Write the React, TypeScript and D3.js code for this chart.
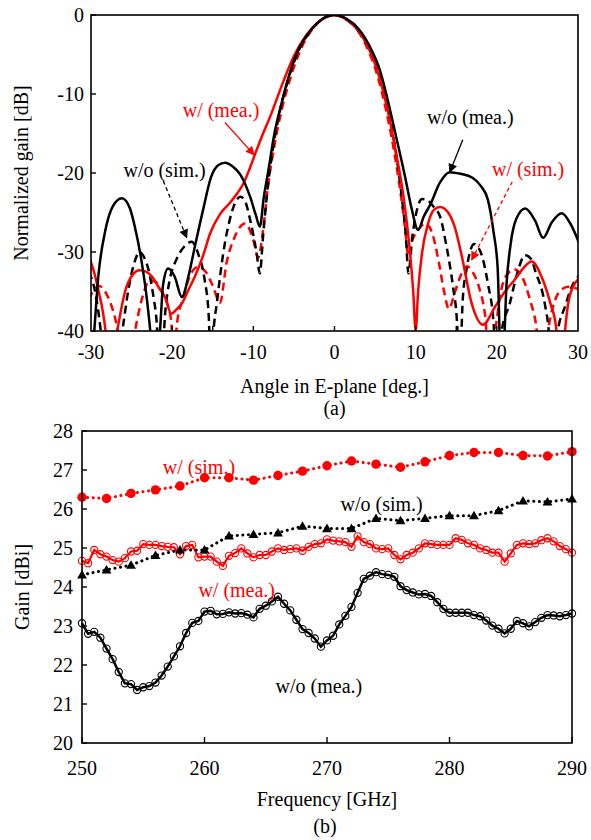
import React from "react";
import * as d3 from "d3";

const FONT = '"Liberation Serif", "Times New Roman", serif';
const RED = "#ff0000";

// ---------- (a) radiation pattern data (angle [deg], normalized gain [dB]) ----------
const woMeaAngle = [-30.3,-29.6,-29.1,-28.3,-27.3,-26.2,-25.2,-24.6,-23.8,-23.1,-22.7,-22.1,-21.5,-21.1,-20.5,-19.7,-18.8,-18.0,-17.2,-16.2,-15.2,-14.3,-13.5,-12.5,-11.6,-10.4,-9.7,-9.2,-8.7,-8.2,-7.4,-6.6,-5.7,-4.5,-3,-1.5,0,1.5,3,4.5,5.6,6.5,7.5,8.7,9.5,10.3,11.0,11.8,13.0,14.2,15.5,17.0,18.0,18.9,19.6,20.1,20.6,21.2,21.7,22.4,23.5,24.7,25.7,26.8,28,29,30.3];
const woMeaDb = [-48,-40,-33.1,-27.6,-24.2,-23.2,-24.5,-26.8,-31,-36.1,-40,-48,-40,-34,-32.1,-33.1,-35.7,-33.1,-29.3,-24.7,-20.5,-19,-18.7,-19.2,-20.2,-23.0,-25.3,-26.8,-23,-20,-15,-11.5,-8,-4.5,-2,-0.5,0,-0.5,-1.8,-4.3,-7,-10.5,-15,-20.5,-24.5,-27.2,-25.5,-24.0,-21.2,-19.9,-20.1,-20.6,-21.6,-23.4,-27.5,-32,-48,-34,-29,-25.8,-24.5,-26,-28.2,-26.2,-25.1,-26.3,-29.3];

const woSimAngle = [-30.3,-29.5,-28.8,-28.2,-27,-26,-25.4,-24.7,-24,-23.4,-22.9,-22.3,-21.9,-21.5,-20.8,-20.3,-19.5,-18.5,-17.6,-16.8,-16.0,-15.5,-15.2,-14.9,-14.5,-13.7,-12.9,-12.2,-11.6,-11.0,-10.4,-9.6,-9.2,-8.8,-8.3,-7.6,-6.8,-5.8,-4.5,-3,-1.5,0,1.5,3,4.5,5.5,6.5,7.5,8.4,8.8,9.1,9.6,10.2,10.8,11.5,12.3,13.0,13.8,14.6,15.1,15.4,15.8,16.3,17.2,18,18.9,19.6,20.0,20.6,21.6,22.4,23.5,24.3,24.7,25.9,26.4,26.8,27.5,28.4,29.2,30.3];
const woSimDb = [-32.5,-35,-40,-47,-46,-39,-34.8,-31.5,-30.0,-30.8,-32.3,-35.7,-39,-47,-37,-33.5,-31,-29.3,-28.7,-30.2,-33.5,-38,-46,-40,-36.5,-30.1,-25.9,-23.7,-23.0,-23.6,-25.9,-30.1,-32.7,-28,-22.5,-17,-12.5,-8.5,-4.7,-2.1,-0.5,0,-0.6,-2.1,-4.8,-7.5,-11.5,-17,-24,-28,-32.7,-28,-24.5,-23.3,-23.5,-24.4,-25.5,-29.3,-34.4,-39,-46,-36,-32,-29,-30,-34,-39,-46,-40,-36.5,-33.1,-30.4,-31,-32.3,-36.5,-40,-46,-40,-36.9,-34.5,-32.8];

const wMeaAngle = [-30.3,-29.5,-29.1,-28.5,-28.0,-27.6,-27.1,-26.6,-25.8,-24.8,-24,-23.2,-22.5,-21.7,-20.9,-20.1,-19.4,-18.8,-18,-17.2,-16.2,-15.3,-14.1,-12.9,-12,-11.2,-10.4,-9.6,-8.8,-7.9,-6.3,-5,-3.5,-2,0,1.5,3,4.5,5.5,6.5,7.5,8.5,9.2,9.7,10.0,10.3,10.8,11.5,12.3,13.0,14,14.8,15.7,16.9,18.3,19.8,21,22.2,23.3,24.3,25.5,26.6,27.3,27.9,28.4,29,30.3];
const wMeaDb = [-30.5,-33,-34.8,-37.8,-42,-48,-42,-39,-35,-32.8,-32.3,-32.5,-33.1,-34.4,-35.7,-37.8,-37.2,-36.5,-34.8,-33.1,-30.5,-27.6,-25.2,-23.8,-22.6,-21.3,-19.3,-17.1,-15.0,-12.8,-8.4,-5.2,-2.6,-0.9,0,-0.6,-2.0,-4.8,-7.8,-11.8,-17,-23,-29,-35,-40,-35,-30,-26.5,-24.6,-24.3,-25,-26.8,-30.6,-36.5,-39.2,-36.9,-35,-33.5,-32,-31.2,-33.1,-36.5,-39.5,-47,-40,-35.5,-33.2];

const wSimAngle = [-30.3,-29,-28,-27,-26.3,-25.6,-24.9,-24.3,-23.6,-22.8,-22.0,-21.3,-20.6,-20.1,-19.8,-19.4,-18.7,-17.8,-16.8,-15.8,-15.0,-14.1,-13.3,-12.3,-11.0,-10.0,-9.4,-8.8,-8.2,-7.4,-6.5,-5.5,-4,-2.5,0,2.5,4,5.3,6.3,7.3,8.2,8.7,9.1,9.6,10.3,11.2,12,12.8,13.5,14.1,14.8,15.5,16.3,17.0,17.9,18.6,19.1,19.8,20.5,21.3,22.2,23.1,24.1,24.8,25.6,26.3,26.9,27.6,28.8,30.3];
const wSimDb = [-36,-34.3,-35.5,-38.5,-42,-47,-42,-38.5,-35.5,-33.6,-33.8,-35.0,-36.5,-39,-44,-39,-36,-33,-31.9,-32.6,-34.3,-36.4,-31.4,-28.1,-26.4,-28.5,-30.7,-27.2,-21.7,-16.5,-12,-8.2,-4,-1.5,0,-1.5,-4.1,-7.7,-11.8,-17,-23,-27,-30.5,-28.5,-27.2,-26.4,-27.5,-31,-35,-37.2,-35.2,-33.1,-31.8,-32.5,-34.8,-38.5,-45,-40,-35,-32.8,-32.2,-33.1,-36.1,-39,-46,-40,-37,-35.2,-34.4,-34.8];

const angleTicks = [-30, -20, -10, 0, 10, 20, 30];
const angleMinorTicks = [-20, -15, -10, 0, 10, 15, 20];
const dbTicks = [0, -10, -20, -30, -40];

// ---------- (b) gain vs frequency data ----------
const freqSim = [250,252,254,256,258,260,262,264,266,268,270,272,274,276,278,280,282,284,286,288,290];
const wSimGain = [26.30,26.27,26.40,26.49,26.59,26.80,26.80,26.74,26.86,26.97,27.11,27.23,27.15,27.07,27.21,27.37,27.45,27.45,27.37,27.36,27.47];
const woSimGain = [24.31,24.44,24.56,24.81,24.95,24.95,25.31,25.35,25.39,25.56,25.50,25.50,25.76,25.70,25.76,25.83,25.83,25.96,26.21,26.18,26.26];

const freqMea = [250,250.5,251,251.5,252,252.5,253,253.5,254,254.5,255,255.5,256,256.5,257,257.5,258,258.5,259,259.5,260,260.5,261,261.5,262,262.5,263,263.5,264,264.5,265,265.5,266,266.5,267,267.5,268,268.5,269,269.5,270,270.5,271,271.5,272,272.5,273,273.5,274,274.5,275,275.5,276,276.5,277,277.5,278,278.5,279,279.5,280,280.5,281,281.5,282,282.5,283,283.5,284,284.5,285,285.5,286,286.5,287,287.5,288,288.5,289,289.5,290];
const wMeaGain = [
  24.67,24.61,24.95,24.84,24.78,24.69,24.65,24.74,24.91,24.93,
  25.10,25.08,25.08,25.05,25.03,25.02,24.84,25.05,25.08,24.76,
  24.78,24.78,24.65,24.54,24.80,24.87,24.99,24.86,24.76,24.82,
  24.82,24.91,24.99,24.95,24.97,24.99,24.93,25.03,25.10,25.12,
  25.22,25.19,25.17,25.15,25.03,25.30,25.15,25.10,24.99,24.97,
  24.99,24.82,24.71,24.82,24.88,24.99,25.12,25.10,25.08,25.08,
  25.08,25.25,25.21,25.12,25.08,24.99,24.95,24.88,24.88,24.65,
  24.86,25.08,25.12,25.10,25.12,25.20,25.25,25.17,25.05,24.97,
  24.88];
const woMeaGain = [
  23.07,22.80,22.85,22.70,22.42,22.15,21.82,21.53,21.51,21.36,
  21.43,21.46,21.55,21.73,21.96,22.22,22.48,22.82,23.08,23.13,
  23.37,23.39,23.30,23.31,23.35,23.32,23.33,23.29,23.22,23.44,
  23.52,23.63,23.75,23.57,23.40,23.16,22.92,22.82,22.68,22.47,
  22.63,22.75,23.04,23.26,23.49,23.85,24.21,24.29,24.38,24.33,
  24.31,24.26,24.02,23.92,23.86,23.81,23.82,23.77,23.61,23.44,
  23.34,23.34,23.34,23.34,23.28,23.25,23.14,23.01,22.93,22.81,
  22.93,23.13,23.07,22.99,23.10,23.21,23.28,23.27,23.25,23.28,
  23.32];

const freqTicks = [250, 260, 270, 280, 290];
const gainTicks = [20, 21, 22, 23, 24, 25, 26, 27, 28];

// annotations: [x, y] in data units
const topLabels = [
  { text: "w/ (mea.)", x: -18.7, y: -12.9, color: RED },
  { text: "w/o (sim.)", x: -26.0, y: -20.5, color: "#000" },
  { text: "w/o (mea.)", x: 11.4, y: -13.8, color: "#000" },
  { text: "w/ (sim.)", x: 19.4, y: -20.4, color: RED },
];
const topArrows = [
  { from: [-13.5, -13.6], to: [-9.9, -17.7], color: RED, dashed: false },
  { from: [-21.1, -21.0], to: [-18.2, -28.2], color: "#000", dashed: true },
  { from: [15.8, -15.8], to: [14.2, -19.9], color: "#000", dashed: false },
  { from: [21.9, -21.1], to: [16.9, -31.0], color: RED, dashed: true },
];
const botLabels = [
  { text: "w/ (sim.)", x: 256.6, y: 26.9, color: RED },
  { text: "w/o (sim.)", x: 271.1, y: 25.95, color: "#000" },
  { text: "w/ (mea.)", x: 259.5, y: 23.74, color: RED },
  { text: "w/o (mea.)", x: 265.8, y: 21.28, color: "#000" },
];

function pathOf(xs: number[], ys: number[], sx: any, sy: any, curve?: any): string {
  const pts = xs.map((x, i) => [x, ys[i]] as [number, number]);
  const g = d3.line<[number, number]>().x((d) => sx(d[0])).y((d) => sy(d[1]));
  if (curve) g.curve(curve);
  return g(pts) || "";
}

export default function App() {
  // top chart
  const xA = d3.scaleLinear().domain([-30, 30]).range([91, 578]);
  const yA = d3.scaleLinear().domain([-40, 0]).range([331, 15]);
  // bottom chart
  const xF = d3.scaleLinear().domain([250, 290]).range([82, 572]);
  const yG = d3.scaleLinear().domain([20, 28]).range([743, 431]);

  const curve = d3.curveMonotoneX;
  const tri = d3.symbol(d3.symbolTriangle, 42)() || "";

  return (
    <svg
      width={591}
      height={840}
      style={{ position: "absolute", left: 0, top: 0, background: "#fff" }}
      fontFamily={FONT}
    >
      <defs>
        <clipPath id="clipA">
          <rect x={xA(-30)} y={yA(0)} width={xA(30) - xA(-30)} height={yA(-40) - yA(0)} />
        </clipPath>
        <clipPath id="clipB">
          <rect x={xF(250) - 6} y={yG(28)} width={xF(290) - xF(250) + 12} height={yG(20) - yG(28)} />
        </clipPath>
        <marker id="ahRed" viewBox="0 0 10 10" refX="9" refY="5" markerWidth="11" markerHeight="9" markerUnits="userSpaceOnUse" orient="auto">
          <path d="M0,0 L10,5 L0,10 z" fill={RED} />
        </marker>
        <marker id="ahBlack" viewBox="0 0 10 10" refX="9" refY="5" markerWidth="11" markerHeight="9" markerUnits="userSpaceOnUse" orient="auto">
          <path d="M0,0 L10,5 L0,10 z" fill="#000" />
        </marker>
      </defs>

      {/* ================= (a) ================= */}
      <g clipPath="url(#clipA)" fill="none" strokeWidth={2.5}>
        <path d={pathOf(wSimAngle, wSimDb, xA, yA, curve)} stroke={RED} strokeDasharray="8,5" />
        <path d={pathOf(woSimAngle, woSimDb, xA, yA, curve)} stroke="#000" strokeDasharray="8,5" />
        <path d={pathOf(wMeaAngle, wMeaDb, xA, yA, curve)} stroke={RED} />
        <path d={pathOf(woMeaAngle, woMeaDb, xA, yA, curve)} stroke="#000" />
      </g>
      <rect x={xA(-30)} y={yA(0)} width={xA(30) - xA(-30)} height={yA(-40) - yA(0)} fill="none" stroke="#000" strokeWidth={1.6} />
      {dbTicks.map((t) => (
        <g key={"ya" + t}>
          <line x1={xA(-30)} x2={xA(-30) + 5} y1={yA(t)} y2={yA(t)} stroke="#000" strokeWidth={1.4} />
          <text x={xA(-30) - 7} y={yA(t)} dy="0.35em" textAnchor="end" fontSize={20}>{t}</text>
        </g>
      ))}
      {angleMinorTicks.map((t) => (
        <line key={"xt" + t} x1={xA(t)} x2={xA(t)} y1={yA(-40)} y2={yA(-40) - 5} stroke="#000" strokeWidth={1.4} />
      ))}
      {angleTicks.map((t) => (
        <text key={"xa" + t} x={xA(t)} y={359} textAnchor="middle" fontSize={20}>{t}</text>
      ))}
      <text x={xA(0)} y={393} textAnchor="middle" fontSize={20}>Angle in E-plane [deg.]</text>
      <text x={xA(0)} y={415} textAnchor="middle" fontSize={20}>(a)</text>
      <text transform={`translate(28,${(yA(0) + yA(-40)) / 2}) rotate(-90)`} textAnchor="middle" fontSize={20}>Normalized gain [dB]</text>

      {topArrows.map((a, i) => (
        <line
          key={"arr" + i}
          x1={xA(a.from[0])}
          y1={yA(a.from[1])}
          x2={xA(a.to[0])}
          y2={yA(a.to[1])}
          stroke={a.color}
          strokeWidth={1.3}
          strokeDasharray={a.dashed ? "4,3" : undefined}
          markerEnd={a.color === RED ? "url(#ahRed)" : "url(#ahBlack)"}
        />
      ))}
      {topLabels.map((l, i) => (
        <text key={"tl" + i} x={xA(l.x)} y={yA(l.y)} fill={l.color} fontSize={20}>{l.text}</text>
      ))}

      {/* ================= (b) ================= */}
      <g clipPath="url(#clipB)">
        {/* w/o (mea.) */}
        <path d={pathOf(freqMea, woMeaGain, xF, yG)} fill="none" stroke="#000" strokeWidth={2.5} />
        {freqMea.map((f, i) => (
          <circle key={"bo" + i} cx={xF(f)} cy={yG(woMeaGain[i])} r={3.6} fill="none" stroke="#000" strokeWidth={1.1} />
        ))}
        {/* w/ (mea.) */}
        <path d={pathOf(freqMea, wMeaGain, xF, yG)} fill="none" stroke={RED} strokeWidth={2.2} />
        {freqMea.map((f, i) => (
          <circle key={"ro" + i} cx={xF(f)} cy={yG(wMeaGain[i])} r={3.6} fill="none" stroke={RED} strokeWidth={1.1} />
        ))}
        {/* w/o (sim.) */}
        <path d={pathOf(freqSim, woSimGain, xF, yG)} fill="none" stroke="#000" strokeWidth={3} strokeDasharray="0.1,5.5" strokeLinecap="round" />
        {freqSim.map((f, i) => (
          <path key={"tr" + i} d={tri} transform={`translate(${xF(f)},${yG(woSimGain[i]) + 0.8})`} fill="#000" />
        ))}
        {/* w/ (sim.) */}
        <path d={pathOf(freqSim, wSimGain, xF, yG)} fill="none" stroke={RED} strokeWidth={3} strokeDasharray="0.1,5.5" strokeLinecap="round" />
        {freqSim.map((f, i) => (
          <circle key={"rf" + i} cx={xF(f)} cy={yG(wSimGain[i])} r={4.7} fill={RED} />
        ))}
      </g>
      <rect x={xF(250)} y={yG(28)} width={xF(290) - xF(250)} height={yG(20) - yG(28)} fill="none" stroke="#000" strokeWidth={1.6} />
      {gainTicks.map((t) => (
        <g key={"yg" + t}>
          <line x1={xF(250)} x2={xF(250) + 5} y1={yG(t)} y2={yG(t)} stroke="#000" strokeWidth={1.4} />
          <text x={xF(250) - 9} y={yG(t)} dy="0.35em" textAnchor="end" fontSize={20}>{t}</text>
        </g>
      ))}
      {freqTicks.map((t) => (
        <g key={"xf" + t}>
          <line x1={xF(t)} x2={xF(t)} y1={yG(20)} y2={yG(20) - 6} stroke="#000" strokeWidth={1.4} />
          <text x={xF(t)} y={775} textAnchor="middle" fontSize={20}>{t}</text>
        </g>
      ))}
      <text x={(xF(250) + xF(290)) / 2} y={806} textAnchor="middle" fontSize={20}>Frequency [GHz]</text>
      <text x={(xF(250) + xF(290)) / 2 - 2} y={833} textAnchor="middle" fontSize={20}>(b)</text>
      <text transform={`translate(29,${(yG(20) + yG(28)) / 2}) rotate(-90)`} textAnchor="middle" fontSize={20}>Gain [dBi]</text>
      {botLabels.map((l, i) => (
        <text key={"bl" + i} x={xF(l.x)} y={yG(l.y)} fill={l.color} fontSize={20}>{l.text}</text>
      ))}
    </svg>
  );
}
